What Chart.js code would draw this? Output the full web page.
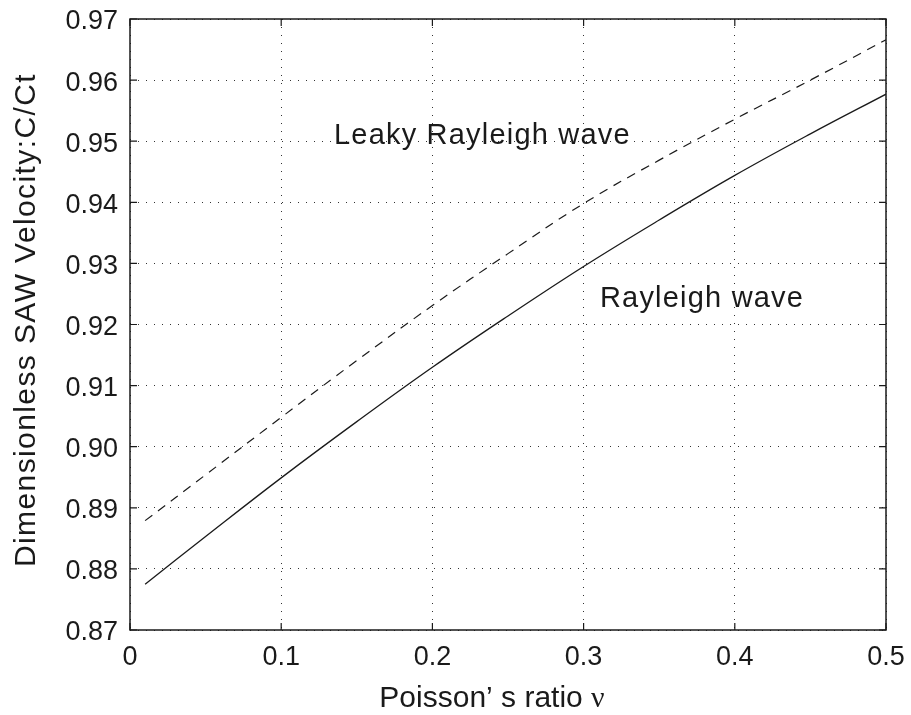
<!DOCTYPE html>
<html>
<head>
<meta charset="utf-8">
<script src="https://cdn.jsdelivr.net/npm/chart.js@4.4.1/dist/chart.umd.min.js"></script>
<style>
  body { margin: 0; background: #fff; }
  #wrap { width: 911px; height: 715px; }
</style>
</head>
<body>
<div id="wrap"><canvas id="sawChart"></canvas></div>
<script>
// Poisson's ratio samples and the two velocity curves
var poisson = [0.01, 0.05, 0.1, 0.15, 0.2, 0.25, 0.3, 0.35, 0.4, 0.45, 0.5];
var rayleigh = [0.8775, 0.8853, 0.8949, 0.9041, 0.9130, 0.9214, 0.9295, 0.9371, 0.9444, 0.9512, 0.9577];
var leakyRayleigh = [0.8879, 0.8954, 0.9048, 0.9141, 0.9231, 0.9316, 0.9398, 0.9469, 0.9536, 0.9600, 0.9666];

var xTicks = [0, 0.1, 0.2, 0.3, 0.4, 0.5];
var yTicks = [0.87, 0.88, 0.89, 0.90, 0.91, 0.92, 0.93, 0.94, 0.95, 0.96, 0.97];

var labelLeaky = 'Leaky Rayleigh wave';
var labelRayleigh = 'Rayleigh wave';
var xTitle = 'Poisson\u2019 s ratio ';
var yTitle = 'Dimensionless SAW Velocity:C/Ct';

function toPoints(xs, ys) {
    return xs.map(function (v, i) { return { x: v, y: ys[i] }; });
}

// box, inward ticks, titles and in-plot labels
var molduraPlugin = {
    id: 'moldura',
    afterDraw: function (chart) {
        var ctx = chart.ctx;
        var a = chart.chartArea;
        var x = chart.scales.x;
        var y = chart.scales.y;
        ctx.save();
        ctx.strokeStyle = '#1a1a1a';
        ctx.lineWidth = 1.5;
        ctx.strokeRect(a.left, a.top, a.right - a.left, a.bottom - a.top);

        ctx.lineWidth = 1.2;
        ctx.beginPath();
        xTicks.forEach(function (v) {
            var px = x.getPixelForValue(v);
            ctx.moveTo(px, a.bottom); ctx.lineTo(px, a.bottom - 7);
            ctx.moveTo(px, a.top); ctx.lineTo(px, a.top + 7);
        });
        yTicks.forEach(function (v) {
            var py = y.getPixelForValue(v);
            ctx.moveTo(a.left, py); ctx.lineTo(a.left + 7, py);
            ctx.moveTo(a.right, py); ctx.lineTo(a.right - 7, py);
        });
        ctx.stroke();

        ctx.fillStyle = '#1a1a1a';
        ctx.textBaseline = 'alphabetic';

        // curve labels
        ctx.font = '29px "Liberation Sans", Arial, sans-serif';
        ctx.letterSpacing = '1.2px';
        ctx.textAlign = 'left';
        ctx.fillText(labelLeaky, x.getPixelForValue(0.1349), y.getPixelForValue(0.9495));
        ctx.fillText(labelRayleigh, x.getPixelForValue(0.3108), y.getPixelForValue(0.9228));

        // x title with greek nu
        ctx.letterSpacing = '0px';
        ctx.font = '30px "Liberation Sans", Arial, sans-serif';
        var w1 = ctx.measureText(xTitle).width;
        ctx.font = '30px "Liberation Serif", "Times New Roman", serif';
        var w2 = ctx.measureText('\u03bd').width;
        var startX = 492 - (w1 + w2) / 2;
        ctx.font = '30px "Liberation Sans", Arial, sans-serif';
        ctx.fillText(xTitle, startX, 707);
        ctx.font = '30px "Liberation Serif", "Times New Roman", serif';
        ctx.fillText('\u03bd', startX + w1, 707);

        // y title
        ctx.translate(35, 320);
        ctx.rotate(-Math.PI / 2);
        ctx.font = '30px "Liberation Sans", Arial, sans-serif';
        ctx.letterSpacing = '1.4px';
        ctx.textAlign = 'center';
        ctx.fillText(yTitle, 0, 0);
        ctx.restore();
    }
};

function criarGrafico() {
    var dados = {
        datasets: [{
            label: 'Rayleigh wave',
            data: toPoints(poisson, rayleigh),
            borderColor: '#1a1a1a',
            borderWidth: 1.3,
            pointRadius: 0,
            tension: 0.4,
            fill: false
        }, {
            label: 'Leaky Rayleigh wave',
            data: toPoints(poisson, leakyRayleigh),
            borderColor: '#1a1a1a',
            borderWidth: 1.2,
            borderDash: [9, 7],
            pointRadius: 0,
            tension: 0.4,
            fill: false
        }]
    };

    var config = {
        type: 'line',
        data: dados,
        options: {
            responsive: true,
            maintainAspectRatio: false,
            animation: { duration: 0 },
            layout: { padding: { top: 19, right: 25, left: 0, bottom: 0 } },
            plugins: {
                legend: { display: false },
                tooltip: { enabled: false }
            },
            scales: {
                x: {
                    type: 'linear',
                    min: 0,
                    max: 0.5,
                    afterFit: function (s) { s.height = 85; s.paddingLeft = 0; s.paddingRight = 0; },
                    afterBuildTicks: function (s) { s.ticks = xTicks.map(function (v) { return { value: v }; }); },
                    grid: { color: '#333', lineWidth: 1, drawTicks: false },
                    border: { display: false, dash: [1, 7] },
                    ticks: {
                        padding: 11,
                        color: '#1a1a1a',
                        font: { family: '"Liberation Sans", Arial, sans-serif', size: 27 },
                        callback: function (v) { return v === 0 ? '0' : v.toFixed(1); }
                    }
                },
                y: {
                    min: 0.87,
                    max: 0.97,
                    afterFit: function (s) { s.width = 130; s.paddingTop = 0; s.paddingBottom = 0; },
                    afterBuildTicks: function (s) { s.ticks = yTicks.map(function (v) { return { value: v }; }); },
                    grid: { color: '#333', lineWidth: 1, drawTicks: false },
                    border: { display: false, dash: [1, 7] },
                    ticks: {
                        padding: 12,
                        labelOffset: 3,
                        color: '#1a1a1a',
                        font: { family: '"Liberation Sans", Arial, sans-serif', size: 27 },
                        callback: function (v) { return v.toFixed(2); }
                    }
                }
            }
        },
        plugins: [molduraPlugin]
    };

    return new Chart(document.getElementById('sawChart'), config);
}

criarGrafico();
</script>
</body>
</html>
